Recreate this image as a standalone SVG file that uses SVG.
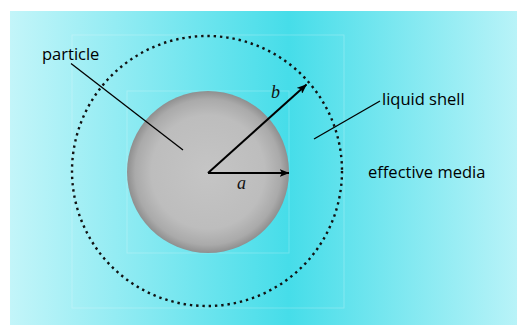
<svg xmlns="http://www.w3.org/2000/svg" width="517" height="325" viewBox="0 0 517 325">
<defs>
<linearGradient id="bg" x1="10" y1="0" x2="517" y2="0" gradientUnits="userSpaceOnUse">
<stop offset="0" stop-color="#c3f5f9"/>
<stop offset="0.55" stop-color="#46dde9"/>
<stop offset="1" stop-color="#b8f3f8"/>
</linearGradient>
<radialGradient id="sphere" cx="0.5" cy="0.5" r="0.5">
<stop offset="0" stop-color="#c5c5c5"/>
<stop offset="0.7" stop-color="#bdbdbd"/>
<stop offset="0.9" stop-color="#aaaaaa"/>
<stop offset="1" stop-color="#8f8f8f"/>
</radialGradient>
<marker id="arr" viewBox="0 0 10 8" refX="9.5" refY="4" markerWidth="10" markerHeight="8" markerUnits="userSpaceOnUse" orient="auto">
<path d="M0,0 L10,4 L0,8 L2.5,4 Z" fill="#000"/>
</marker>
</defs>
<style>
.lbl{font-family:"Open Sans","Noto Sans",sans-serif;font-size:16.5px;fill:#000}
.var{font-family:"Liberation Serif",serif;font-style:italic;font-size:18px;fill:#111}
.lead{stroke:#000;stroke-width:1.3;fill:none}
.frame{fill:none;stroke:#ffffff;stroke-opacity:0.22;stroke-width:1}
</style>
<rect width="517" height="325" fill="#fff"/>
<rect x="10" y="11" width="507" height="314" fill="url(#bg)"/>
<rect class="frame" x="72" y="35" width="272" height="273"/>
<rect class="frame" x="127" y="91" width="162" height="162"/>
<g id="particle">
<circle cx="208" cy="172" r="81" fill="url(#sphere)"/>
</g>
<g id="shell">
<circle cx="207" cy="171" r="135" fill="none" stroke="#111" stroke-width="2.4" stroke-dasharray="2.4 3.9"/>
</g>
<g id="connectors">
<line class="lead" x1="71" y1="63.5" x2="183" y2="150"/>
<line class="lead" x1="314" y1="139" x2="380" y2="101"/>
<line x1="208" y1="173" x2="289" y2="173" stroke="#000" stroke-width="2" marker-end="url(#arr)"/>
<line x1="208" y1="173" x2="306.5" y2="84.5" stroke="#000" stroke-width="2" marker-end="url(#arr)"/>
</g>
<g id="labels">
<text class="lbl" x="42" y="60">particle</text>
<text class="lbl" x="382" y="105">liquid shell</text>
<text class="lbl" x="368" y="178">effective media</text>
<text class="var" x="271" y="98">b</text>
<text class="var" x="237" y="189">a</text>
</g>
</svg>
